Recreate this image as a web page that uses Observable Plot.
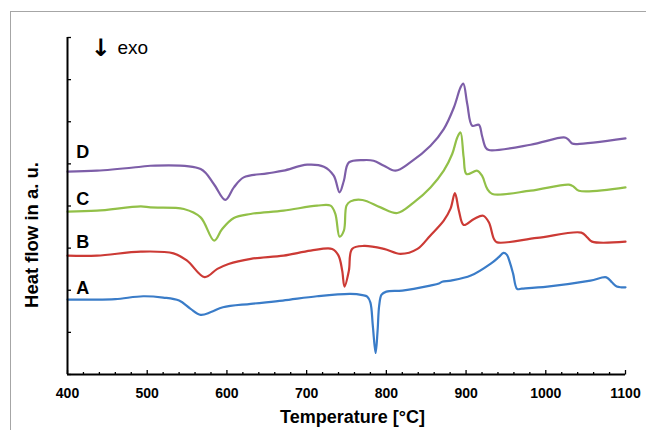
<!DOCTYPE html>
<html><head><meta charset="utf-8">
<script src="https://cdn.jsdelivr.net/npm/d3@7"></script>
<script src="https://cdn.jsdelivr.net/npm/@observablehq/plot@0.6"></script>
<style>
html,body{margin:0;padding:0;background:#fff;overflow:hidden;}
#wrap{position:relative;width:646px;height:430px;overflow:hidden;}
#border{position:absolute;left:10px;top:11px;width:700px;height:500px;border:1.5px solid #a6a6a6;box-sizing:border-box;}
#chart{position:absolute;left:0;top:0;}
</style></head><body>
<div id="wrap"><div id="border"></div><div id="chart"></div></div>
<script>
// ---- data ----
const seriesNames = ["A", "B", "C", "D"];
const seriesColors = ["#3a7cc8", "#cc3a35", "#92c048", "#7d5ea8"];

const tempA = [400, 430, 460, 495, 520, 540, 554, 567, 580, 595, 630, 670, 713, 755, 770, 776, 780, 783, 786.5, 789, 791, 794, 800, 820, 855, 866, 870, 881, 906, 931, 941, 947, 951, 955, 959, 964, 970, 1002, 1056, 1076, 1083, 1089, 1095, 1100];
const heatA = [1.778, 1.778, 1.790, 1.857, 1.826, 1.755, 1.565, 1.416, 1.482, 1.596, 1.677, 1.755, 1.857, 1.914, 1.885, 1.850, 1.707, 1.162, 0.510, 1.043, 1.636, 1.897, 1.968, 1.992, 2.111, 2.160, 2.200, 2.229, 2.348, 2.632, 2.786, 2.886, 2.846, 2.656, 2.395, 2.032, 2.039, 2.087, 2.229, 2.307, 2.189, 2.087, 2.070, 2.070];

const tempB = [400, 437, 492, 533, 550, 572, 588, 602, 630, 671, 705, 732, 740, 744.6, 747.5, 753, 757, 772, 797, 818, 839, 855, 872, 880.5, 886, 891, 897, 910, 921.5, 928.6, 935, 939, 989, 1044.6, 1052, 1058, 1100];
const heatB = [2.822, 2.822, 2.917, 2.876, 2.703, 2.312, 2.507, 2.625, 2.744, 2.822, 2.940, 2.981, 2.822, 2.466, 2.087, 2.466, 2.981, 3.052, 2.981, 2.862, 2.981, 3.296, 3.652, 3.937, 4.304, 3.889, 3.550, 3.692, 3.770, 3.612, 3.218, 3.137, 3.242, 3.367, 3.256, 3.154, 3.154];

const tempC = [400, 437, 492, 504, 546, 567, 584, 594, 608.7, 629.6, 671, 713, 730, 736, 741.3, 746.7, 750, 755, 770, 792.7, 813.7, 834.5, 855.4, 872, 882.6, 889, 893, 897, 900.6, 914, 920, 926.6, 933, 981, 1029, 1035, 1041.5, 1100];
const heatC = [3.865, 3.889, 3.991, 3.967, 3.929, 3.730, 3.178, 3.455, 3.716, 3.811, 3.889, 4.008, 4.008, 3.811, 3.272, 3.415, 4.008, 4.110, 4.143, 3.967, 3.834, 4.086, 4.442, 4.838, 5.234, 5.627, 5.746, 5.153, 4.759, 4.838, 4.719, 4.404, 4.285, 4.363, 4.506, 4.458, 4.363, 4.442];

const tempD = [400, 437, 492, 504, 567, 583.5, 598, 608.7, 621, 650.6, 671, 700.7, 721.6, 734, 741.3, 746.7, 753, 771.7, 784, 797, 811.5, 830, 855.4, 872, 884.7, 893, 896.5, 901.5, 907.7, 916, 920, 924.5, 928.6, 981, 1022.7, 1027.7, 1033, 1039.5, 1100];
const heatD = [4.814, 4.838, 4.932, 4.956, 4.878, 4.522, 4.145, 4.442, 4.679, 4.774, 4.838, 4.980, 4.932, 4.719, 4.323, 4.600, 5.034, 5.091, 5.075, 4.956, 4.838, 5.034, 5.430, 5.826, 6.339, 6.813, 6.908, 6.419, 5.905, 5.928, 5.668, 5.390, 5.328, 5.454, 5.627, 5.589, 5.485, 5.471, 5.604];

// series label anchors (data units)
const labelTemp = [419, 419, 419, 419];
const labelHeat = [2.056, 3.142, 4.150, 5.276];

const xTickLabels = [400, 500, 600, 700, 800, 900, 1000, 1100];
const xMinorTicks = [420, 440, 460, 480, 520, 540, 560, 580, 620, 640, 660, 680, 720, 740, 760, 780, 820, 840, 860, 880, 920, 940, 960, 980, 1020, 1040, 1060, 1080];
const yTicks = [0, 1, 2, 3, 4, 5, 6, 7, 8];

const xTitle = "Temperature [°C]";
const yTitle = "Heat flow in a. u.";
const exoArrow = "↓";
const exoText = "exo";

// ---- build tables ----
const temps = [tempA, tempB, tempC, tempD];
const heats = [heatA, heatB, heatC, heatD];
const rows = [];
seriesNames.forEach((s, i) => temps[i].forEach((t, j) => rows.push({s, t, v: heats[i][j]})));
const labelRows = seriesNames.map((s, i) => ({s, t: labelTemp[i], v: labelHeat[i]}));

const tickUpMajor = {draw(ctx) { ctx.moveTo(0, 0); ctx.lineTo(0, -4.5); }};
const tickUpMinor = {draw(ctx) { ctx.moveTo(0, 0); ctx.lineTo(0, -2.5); }};
const tickRight = {draw(ctx) { ctx.moveTo(0, 0); ctx.lineTo(3.5, 0); }};

const chart = Plot.plot({
  width: 646,
  height: 430,
  marginLeft: 67,
  marginRight: 21,
  marginTop: 37,
  marginBottom: 56,
  style: {fontFamily: "'Liberation Sans', Arial, sans-serif", background: "transparent", overflow: "visible"},
  x: {domain: [400, 1100]},
  y: {domain: [0, 8], axis: null},
  color: {domain: seriesNames, range: seriesColors},
  marks: [
    Plot.line(rows, {x: "t", y: "v", z: "s", stroke: "s", strokeWidth: 2.2, curve: "catmull-rom"}),
    Plot.ruleY([0], {stroke: "black", strokeWidth: 2}),
    Plot.ruleX([400], {stroke: "black", strokeWidth: 2}),
    Plot.dot(xMinorTicks, {x: d => d, frameAnchor: "bottom", symbol: tickUpMinor, stroke: "black", fill: "none", strokeWidth: 1.3}),
    Plot.dot(xTickLabels, {x: d => d, frameAnchor: "bottom", symbol: tickUpMajor, stroke: "black", fill: "none", strokeWidth: 1.3}),
    Plot.dot(yTicks, {y: d => d, frameAnchor: "left", symbol: tickRight, stroke: "black", fill: "none", strokeWidth: 1.3}),
    Plot.axisX(xTickLabels, {tickSize: 0, tickPadding: 14, fontSize: 14, fontWeight: "bold", label: null, tickFormat: d => String(d)}),
    Plot.text(labelRows, {x: "t", y: "v", text: "s", fontSize: 18, fontWeight: "bold", fill: "black"}),
    Plot.text([xTitle], {frameAnchor: "bottom", textAnchor: "middle", lineAnchor: "middle", dx: 6, dy: 43, fontSize: 18, fontWeight: "bold", fill: "black"}),
    Plot.text([yTitle], {frameAnchor: "left", textAnchor: "middle", lineAnchor: "middle", rotate: -90, dx: -35, dy: 29, fontSize: 18.5, fontWeight: "bold", fill: "black"}),
    Plot.text([exoArrow], {frameAnchor: "top-left", textAnchor: "middle", lineAnchor: "middle", dx: 33, dy: 11, fontSize: 24, fontWeight: "bold", fontFamily: "DejaVu Sans", fill: "black"}),
    Plot.text([exoText], {frameAnchor: "top-left", textAnchor: "start", lineAnchor: "middle", dx: 50, dy: 10, fontSize: 19, fill: "black"})
  ]
});
document.getElementById("chart").appendChild(chart);
</script>
</body></html>
